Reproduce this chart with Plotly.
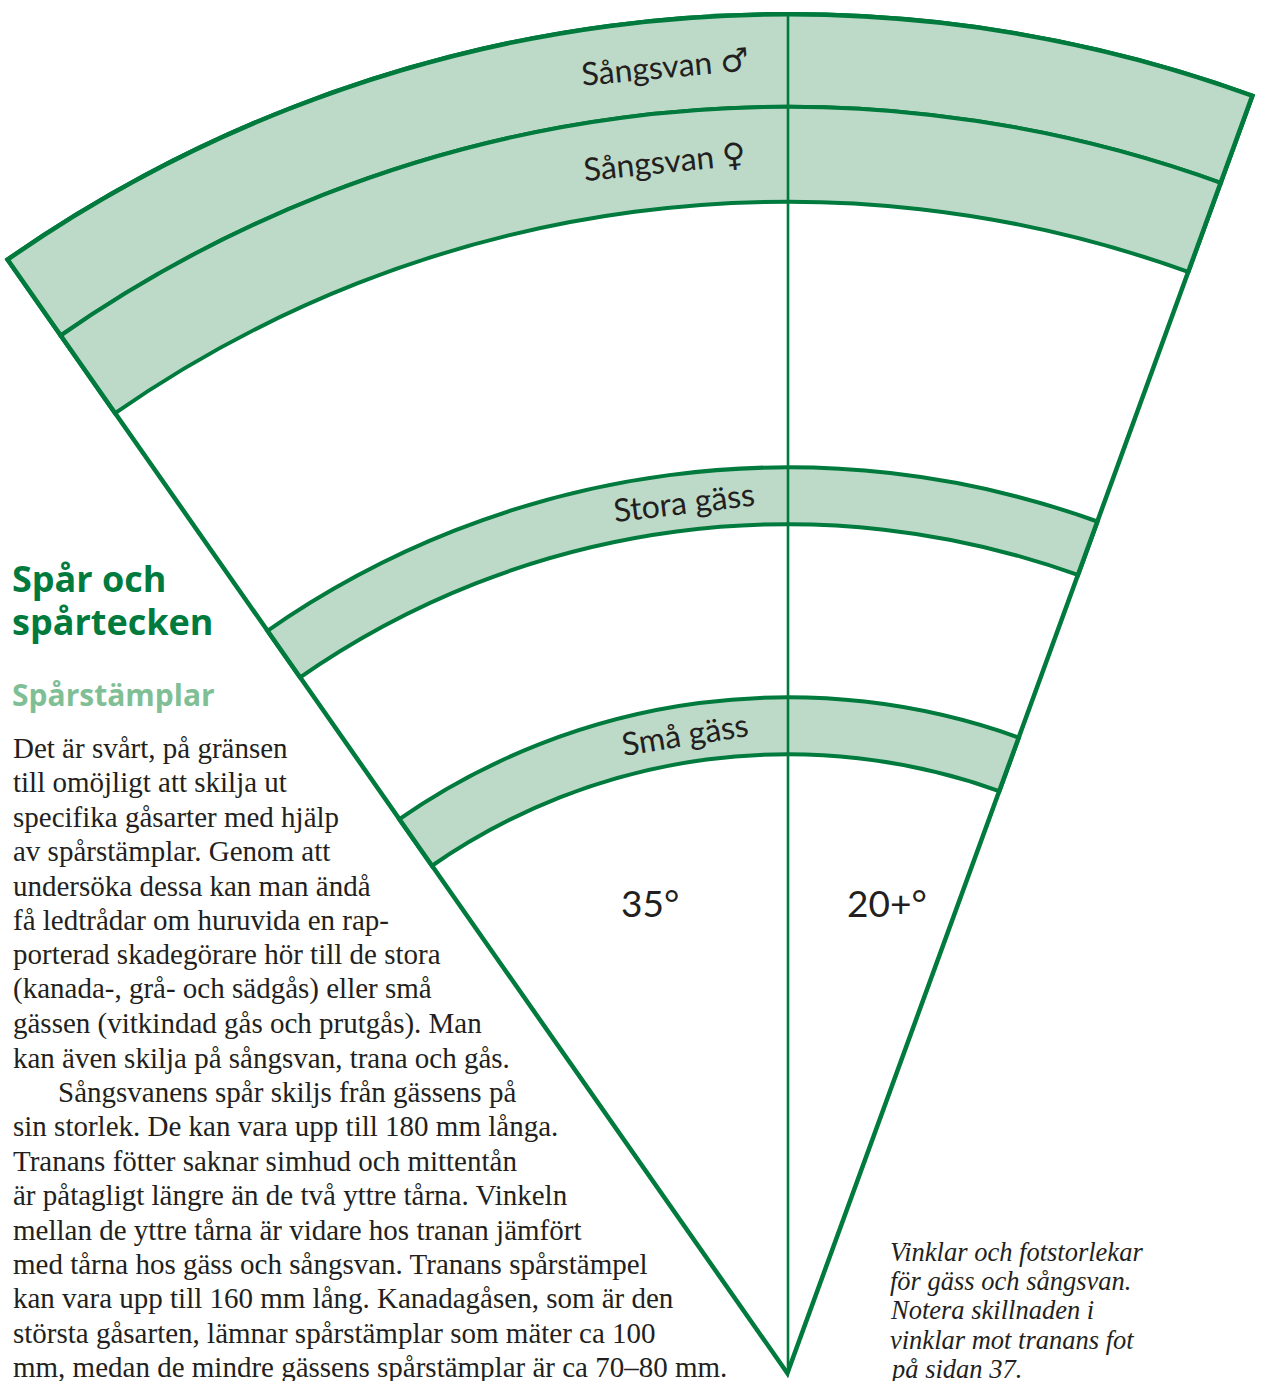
import math
import plotly.graph_objects as go

# ---------------- data ----------------
bands = ["Sångsvan ♂", "Sångsvan ♀", "Stora gäss", "Små gäss"]
band_inner = [167.5, 155.0, 112.5, 82.2]   # radial start (foot-size scale)
band_outer = [180.0, 167.5, 120.0, 89.7]   # radial end
label_theta = [-5.35, -5.8, -6.8, -9.1]    # angular position of band labels
angle_left = 35      # degrees, left of mid line
angle_right = 20     # degrees, right of mid line
angle_labels = ["35°", "20+°"]
r_max = 180.0

title_lines = ["Spår och", "spårtecken"]
subtitle = "Spårstämplar"
body_lines = [
    "Det är svårt, på gränsen",
    "till omöjligt att skilja ut",
    "specifika gåsarter med hjälp",
    "av spårstämplar. Genom att",
    "undersöka dessa kan man ändå",
    "få ledtrådar om huruvida en rap-",
    "porterad skadegörare hör till de stora",
    "(kanada-, grå- och sädgås) eller små",
    "gässen (vitkindad gås och prutgås). Man",
    "kan även skilja på sångsvan, trana och gås.",
    "Sångsvanens spår skiljs från gässens på",
    "sin storlek. De kan vara upp till 180 mm långa.",
    "Tranans fötter saknar simhud och mittentån",
    "är påtagligt längre än de två yttre tårna. Vinkeln",
    "mellan de yttre tårna är vidare hos tranan jämfört",
    "med tårna hos gäss och sångsvan. Tranans spårstämpel",
    "kan vara upp till 160 mm lång. Kanadagåsen, som är den",
    "största gåsarten, lämnar spårstämplar som mäter ca 100",
    "mm, medan de mindre gässens spårstämplar är ca 70–80 mm.",
]
caption_lines = [
    "Vinklar och fotstorlekar",
    "för gäss och sångsvan.",
    "Notera skillnaden i",
    "vinklar mot tranans fot",
    "på sidan 37.",
]

# ---------------- styling / layout ----------------
W, H = 1262, 1381
DARK = "#007a3d"
FILL = "#bdd9c8"
LIGHT = "#80bf95"
INK = "#231f20"

APEX_X, APEX_Y, R_PX = 788.0, 1378.0, 1366.0
sinL = math.sin(math.radians(angle_left))
sinR = math.sin(math.radians(angle_right))
x0 = APEX_X - sinL * R_PX
x1 = APEX_X + sinR * R_PX
dom_x = [x0 / W, x1 / W]
dom_y = [1 - APEX_Y / H, 1 - (APEX_Y - R_PX) / H]
scale = R_PX / r_max

mid_theta = (angle_right - angle_left) / 2.0
span = angle_left + angle_right

fig = go.Figure()

# bands
fig.add_trace(go.Barpolar(
    r=[o - i for i, o in zip(band_inner, band_outer)],
    base=band_inner,
    theta=[mid_theta] * len(bands),
    width=[span] * len(bands),
    marker=dict(color=FILL, line=dict(color=DARK, width=4)),
    hoverinfo="skip", showlegend=False,
))
# centre line
fig.add_trace(go.Scatterpolar(
    r=[0, r_max], theta=[0, 0], mode="lines",
    line=dict(color=DARK, width=2.6), hoverinfo="skip", showlegend=False,
))
# wedge outline (outer half is clipped by the sector, so draw it wide)
fig.add_trace(go.Barpolar(
    r=[r_max], base=[0], theta=[mid_theta], width=[span],
    marker=dict(color="rgba(0,0,0,0)", line=dict(color=DARK, width=9)),
    hoverinfo="skip", showlegend=False,
))

fig.update_layout(
    width=W, height=H,
    margin=dict(l=0, r=0, t=0, b=0),
    paper_bgcolor="white",
    showlegend=False,
    polar=dict(
        domain=dict(x=dom_x, y=dom_y),
        sector=[90 - angle_right, 90 + angle_left],
        bgcolor="white",
        hole=0,
        radialaxis=dict(range=[0, r_max], visible=False, showgrid=False),
        angularaxis=dict(rotation=90, direction="clockwise", visible=False,
                         showgrid=False),
        bargap=0,
    ),
)

ann = []


def px_to_paper(px, py):
    return px / W, 1 - py / H


# band labels, following the arcs
for name, ri, ro, th in zip(bands, band_inner, band_outer, label_theta):
    rm = (ri + ro) / 2 * scale
    px = APEX_X + rm * math.sin(math.radians(th))
    py = APEX_Y - rm * math.cos(math.radians(th))
    xp, yp = px_to_paper(px, py)
    ann.append(dict(x=xp, y=yp, xref="paper", yref="paper", text=name,
                    showarrow=False, textangle=th, xanchor="center",
                    yanchor="middle",
                    font=dict(family="Lato, DejaVu Sans", size=32, color=INK)))

# angle labels
for txt, (px, py) in zip(angle_labels, [(650, 902), (887, 902)]):
    xp, yp = px_to_paper(px, py)
    ann.append(dict(x=xp, y=yp, xref="paper", yref="paper", text=txt,
                    showarrow=False, xanchor="center", yanchor="middle",
                    font=dict(family="Lato, DejaVu Sans", size=37, color=INK)))

# title
for k, t in enumerate(title_lines):
    xp, yp = px_to_paper(10, 578 + k * 43)
    ann.append(dict(x=xp, y=yp, xref="paper", yref="paper", text="<b>%s</b>" % t,
                    showarrow=False, xanchor="left", yanchor="middle",
                    font=dict(family="Open Sans", size=36, color=DARK)))
xp, yp = px_to_paper(10, 694)
ann.append(dict(x=xp, y=yp, xref="paper", yref="paper", text="<b>%s</b>" % subtitle,
                showarrow=False, xanchor="left", yanchor="middle",
                font=dict(family="Open Sans", size=30, color=LIGHT)))

# body text
for k, t in enumerate(body_lines):
    indent = 45 if k == 10 else 0
    xp, yp = px_to_paper(11 + indent, 748 + k * 34.4)
    ann.append(dict(x=xp, y=yp, xref="paper", yref="paper", text=t,
                    showarrow=False, xanchor="left", yanchor="middle",
                    font=dict(family="Liberation Serif", size=29, color=INK)))

# caption
for k, t in enumerate(caption_lines):
    xp, yp = px_to_paper(888, 1252 + k * 29.2)
    ann.append(dict(x=xp, y=yp, xref="paper", yref="paper", text="<i>%s</i>" % t,
                    showarrow=False, xanchor="left", yanchor="middle",
                    font=dict(family="Liberation Serif", size=26.5, color=INK)))

fig.update_layout(annotations=ann)

fig.write_html("out.html", config={"displayModeBar": False},
               post_script="document.body.style.margin='0';")
